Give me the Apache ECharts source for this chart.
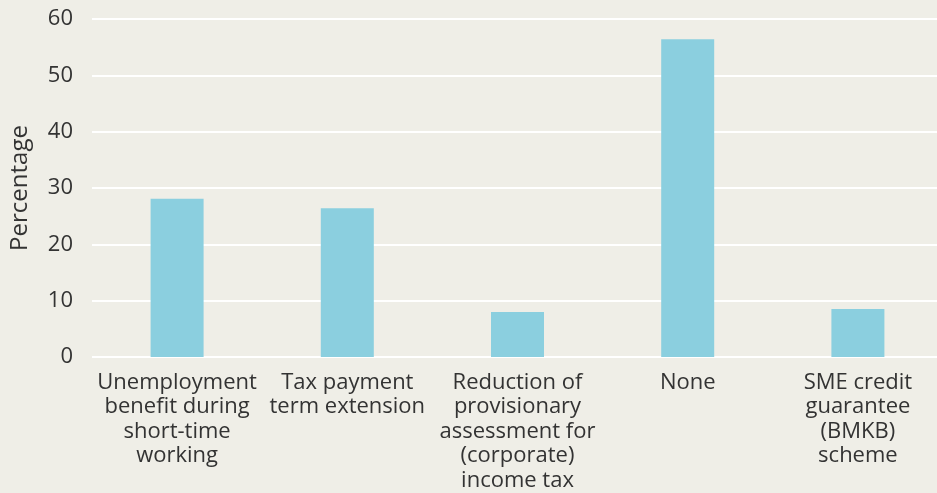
<!DOCTYPE html>
<html>
<head>
<meta charset="utf-8">
<script src="https://cdn.jsdelivr.net/npm/echarts@6/dist/echarts.min.js"></script>
<style>
  html, body { margin: 0; padding: 0; background: #efeee7; overflow: hidden; }
  #chart { width: 943px; height: 493px; }
</style>
</head>
<body>
<div id="chart"></div>
<script>
var categories = [
  'Unemployment\nbenefit during\nshort-time\nworking',
  'Tax payment\nterm extension',
  'Reduction of\nprovisionary\nassessment for\n(corporate)\nincome tax',
  'None',
  'SME credit\nguarantee\n(BMKB)\nscheme'
];
var percentages = [28.1, 26.4, 8.0, 56.4, 8.5];
var yTicks = [0, 10, 20, 30, 40, 50, 60];

var chart = echarts.init(document.getElementById('chart'));
chart.setOption({
  backgroundColor: '#efeee7',
  textStyle: { fontFamily: '"Open Sans", "Noto Sans", sans-serif' },
  grid: { left: 92, right: 0, top: 19, bottom: 136 },
  xAxis: {
    type: 'category',
    data: categories,
    axisLine: { show: false },
    axisTick: { show: false },
    axisLabel: {
      interval: 0,
      margin: 13,
      color: '#333',
      fontSize: 22,
      lineHeight: 24.5,
      align: 'center'
    }
  },
  yAxis: {
    type: 'value',
    min: yTicks[0],
    max: yTicks[yTicks.length - 1],
    interval: 10,
    name: 'Percentage',
    nameLocation: 'middle',
    nameGap: 60,
    nameTextStyle: { color: '#333', fontSize: 24 },
    axisLine: { show: false },
    axisTick: { show: false },
    axisLabel: { color: '#333', fontSize: 22, margin: 19 },
    splitLine: { lineStyle: { color: '#ffffff', width: 2 } }
  },
  series: [{
    type: 'bar',
    data: percentages,
    barWidth: 53,
    itemStyle: { color: '#8bcfdf' },
    silent: true
  }]
});
</script>
</body>
</html>
